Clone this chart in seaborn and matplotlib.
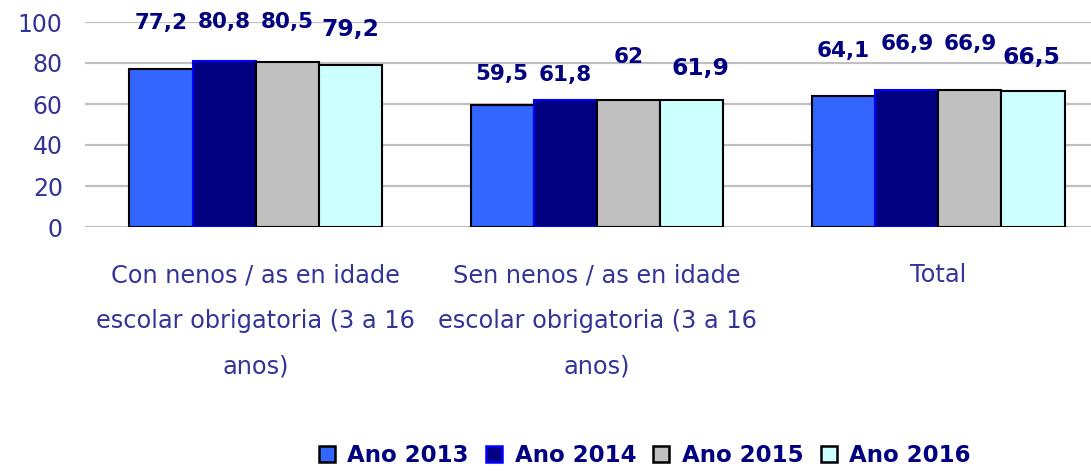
import matplotlib
matplotlib.use("Agg")
import matplotlib.pyplot as plt
import seaborn as sns
import pandas as pd
from matplotlib.patches import Patch

# ---- data ----
categories = [
    "Con nenos / as en idade\nescolar obrigatoria (3 a 16\nanos)",
    "Sen nenos / as en idade\nescolar obrigatoria (3 a 16\nanos)",
    "Total",
]
series = ["Ano 2013", "Ano 2014", "Ano 2015", "Ano 2016"]
ano_2013 = [77.2, 59.5, 64.1]
ano_2014 = [80.8, 61.8, 66.9]
ano_2015 = [80.5, 62.0, 66.9]
ano_2016 = [79.2, 61.9, 66.5]
yticks = [0, 20, 40, 60, 80, 100]

# ---- style ----
fills = ["#3366FF", "#000080", "#C0C0C0", "#CCFFFF"]
edges = ["#000000", "#0000FF", "#000000", "#000000"]
tick_color = "#333399"
label_color = "#000080"
# label nudges (points) per series x category, mimic manual placement
label_dy = [[33, 22, 32], [28, 18, 33], [29, 31, 33], [25, 23, 24]]
label_dx = [[0, 0, 0], [0, 0, 0], [0, 0, 0], [0, 6, -1]]
label_size = [15.5, 15.5, 15.5, 16.8]

rows = []
for s, vals in zip(series, [ano_2013, ano_2014, ano_2015, ano_2016]):
    for c, v in zip(categories, vals):
        rows.append({"cat": c, "serie": s, "val": v})
df = pd.DataFrame(rows)

sns.set_style("white")
plt.rcParams["font.family"] = ["DejaVu Sans"]

fig = plt.figure(figsize=(10.91, 4.74), dpi=100)
ax = fig.add_axes([85 / 1091, 1 - 227 / 474, 1024 / 1091, 205 / 474])

sns.barplot(data=df, x="cat", y="val", hue="serie", order=categories,
            hue_order=series, palette=fills, width=0.74, gap=0,
            saturation=1, ax=ax, legend=False, zorder=3)

for i, cont in enumerate(ax.containers):
    for j, p in enumerate(cont.patches):
        p.set_edgecolor(edges[i])
        p.set_linewidth(1.5)
        v = p.get_height()
        txt = f"{v:g}".replace(".", ",")
        ax.annotate(txt, (p.get_x() + p.get_width() / 2, v),
                    xytext=(label_dx[i][j], label_dy[i][j]),
                    textcoords="offset points", ha="center", va="center",
                    fontsize=label_size[i], fontweight="bold",
                    color=label_color, zorder=5)

ax.set_xlim(-0.5, 2.5)
ax.set_ylim(0, 100)
ax.set_yticks(yticks)
ax.yaxis.grid(True, color="#C0C0C0", linewidth=1.6, zorder=0)
ax.set_axisbelow(True)
for sp in ax.spines.values():
    sp.set_visible(False)
ax.tick_params(axis="y", length=0, pad=16, labelsize=17, labelcolor=tick_color)
ax.tick_params(axis="x", length=0, pad=26, labelsize=17.3, labelcolor=tick_color)
for t in ax.get_xticklabels():
    t.set_linespacing(2.13)
ax.set_xlabel("")
ax.set_ylabel("")

handles = [Patch(facecolor=f, edgecolor=e, linewidth=1.8) for f, e in zip(fills, edges)]
fig.legend(handles, series, loc="center", bbox_to_anchor=(0.591, 0.038), ncol=4,
           frameon=False, handlelength=0.7, handleheight=0.7, handletextpad=0.55,
           columnspacing=0.75, prop={"size": 16.5, "weight": "bold"},
           labelcolor=label_color)

fig.savefig("out.png", dpi=100)
